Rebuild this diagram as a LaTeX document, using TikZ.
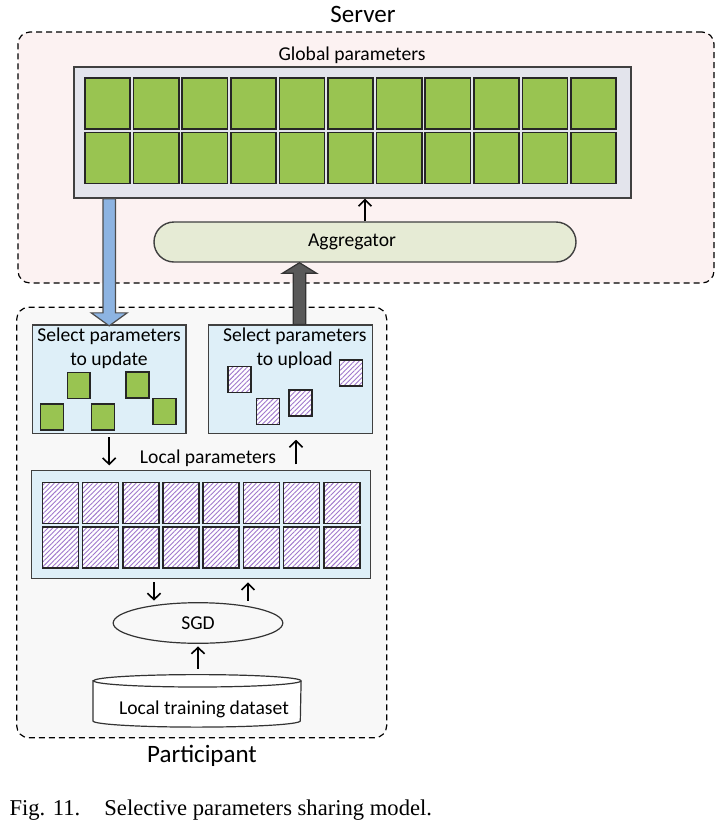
\documentclass[tikz,border=0pt]{standalone}
\usepackage{fontspec}
\setmainfont{Carlito}
\newfontfamily\capfont{Liberation Serif}
\usepackage{tikz}
\usetikzlibrary{arrows.meta,shapes,positioning,calc,patterns.meta}

\definecolor{srvbg}{RGB}{252,242,242}
\definecolor{globbg}{RGB}{227,228,236}
\definecolor{pgreen}{RGB}{153,196,81}
\definecolor{aggbg}{RGB}{230,235,213}
\definecolor{partbg}{RGB}{248,248,248}
\definecolor{selbg}{RGB}{222,239,248}
\definecolor{upblue}{RGB}{141,180,226}
\definecolor{updark}{RGB}{89,89,89}
\definecolor{hatch}{RGB}{160,120,205}

\begin{document}
\begin{tikzpicture}[x=0.5pt,y=-0.5pt,font=\fontsize{9.8}{12.15}\selectfont]
        \tikzstyle{region}=[rectangle, rounded corners=6pt, dash pattern=on 3pt off 2pt, draw=black, line width=0.6pt, inner sep=0pt]
        \tikzstyle{panel}=[rectangle, draw=black!75, line width=0.7pt, inner sep=0pt]
        \tikzstyle{gcell}=[rectangle, draw=black!85, line width=0.8pt, fill=pgreen, inner sep=0pt, minimum width=22.65pt, minimum height=25.5pt]
        \tikzstyle{hcell}=[rectangle, draw=black!85, line width=0.8pt, preaction={fill=white}, pattern={Lines[angle=45,distance=1.7pt,line width=0.45pt]}, pattern color=hatch, inner sep=0pt, minimum width=18pt, minimum height=20.5pt]
        \tikzstyle{flow}=[-{Straight Barb[length=3.2pt,width=6.5pt]}, line width=0.8pt]
        \tikzstyle{bigarrow}=[line width=0.6pt, join=miter]
        \tikzstyle{title}=[font=\fontsize{12.5}{15}\selectfont]
        \useasboundingbox (0,0) rectangle (721,826);
        % server
        \node [region, fill=srvbg, minimum width=348pt, minimum height=125.5pt] (server) at (366,157.5) {};
        \node [title] (srvlbl) at (363,14) {Server};
        \node (globlbl) at (352,55) {Global parameters};
        \node [panel, fill=globbg, minimum width=278.5pt, minimum height=65.5pt] (glob) at (352.5,132.5) {};
        \foreach \x in {0, ..., 10}
          \foreach \y in {0, 1}
          {
            \pgfmathsetmacro{\xs}{107.6 + 48.6 * \x}
            \pgfmathsetmacro{\ys}{103.7 + 54.1 * \y}
            \node [gcell] (g\x\y) at (\xs,\ys) {};
          }
        \node [panel, fill=aggbg, rounded corners=10pt, minimum width=211pt, minimum height=20pt] (agg) at (365,242) {};
        \node (agglbl) at (352,242) {Aggregator};
        \draw [flow] (agg.north) -- (agg.north |- glob.south);
        % participant
        \node [region, fill=partbg, minimum width=185pt, minimum height=215.2pt] (part) at (201.7,522.5) {};
        \node [title] (partlbl) at (202,755.7) {Participant};
        \node [panel, fill=selbg, minimum width=76.85pt, minimum height=54.15pt] (upd) at (109.2,379.2) {};
        \node [panel, fill=selbg, minimum width=81.8pt, minimum height=54.15pt] (upl) at (290.5,379.2) {};
        \node [align=center] (updtxt) at (109,348.3) {Select parameters\\to update};
        \node [align=center] (upltxt) at (294.7,348.3) {Select parameters\\to upload};
        \foreach \cx/\cy [count=\i] in {78.8/385.3, 137.4/385.2, 52/417, 103/417, 164.5/411.5}
          \node [gcell, minimum width=11.35pt, minimum height=13pt] (ug\i) at (\cx,\cy) {};
        \foreach \cx/\cy [count=\i] in {239.2/379.3, 350.8/372.8, 267.8/411.5, 300.7/402.8}
          \node [hcell, minimum width=11.5pt, minimum height=13pt] (uh\i) at (\cx,\cy) {};
        \node (loclbl) at (208,458) {Local parameters};
        \node [panel, fill=selbg, minimum width=169.5pt, minimum height=53.8pt] (loc) at (201.2,524.5) {};
        \foreach \x in {0, ..., 7}
          \foreach \y in {0, 1}
          {
            \pgfmathsetmacro{\xs}{60.3 + 40.2 * \x}
            \pgfmathsetmacro{\ys}{503 + 44.2 * \y}
            \node [hcell] (l\x\y) at (\xs,\ys) {};
          }
        \node [ellipse, draw=black!80, line width=0.6pt, inner sep=0pt, minimum width=84.8pt, minimum height=20.3pt] (sgd) at (198,623) {SGD};
        \node [rectangle, inner sep=0pt, minimum width=103.7pt, minimum height=19.65pt] (cyl) at (197,700.85) {};
        \draw [black!80, line width=0.6pt, fill=white] (cyl.north west) -- (cyl.south west)
          arc [start angle=180, end angle=0, x radius=103.7, y radius=6.2] -- (cyl.north east)
          arc [start angle=0, end angle=-180, x radius=103.7, y radius=6.2] -- cycle;
        \draw [black!80, line width=0.6pt] (cyl.north east) arc [start angle=0, end angle=180, x radius=103.7, y radius=6.2];
        \node (cyltxt) at (204,709.3) {Local training dataset};
        % small arrows
        \coordinate (ua) at ($(upl.south)+(5.5,0)$);
        \coordinate (sd) at (154,600.7);
        \coordinate (su) at (248,600.7);
        \draw [flow, shorten <=1.7pt, shorten >=2.3pt] (upd.south) -- (upd.south |- loc.north);
        \draw [flow, shorten <=2.85pt, shorten >=2.85pt] (ua |- loc.north) -- (ua);
        \draw [flow, shorten <=1.7pt] (sd |- loc.south) -- (sd);
        \draw [flow, shorten >=1.7pt] (su) -- (su |- loc.south);
        \draw [flow, shorten <=5.95pt, shorten >=1.2pt] (sgd.south |- cyl.north) -- (sgd.south);
        % big arrows between server and participant
        \coordinate (b0) at (glob.south -| upd.north);
        \coordinate (b1) at ($(upd.north)+(0,1.5)$);
        \draw [bigarrow, draw=black!70, fill=upblue] ($(b0)+(-6.2,0)$) -- ($(b1)+(-6.2,-13)$) -- ($(b1)+(-18,-13)$) -- (b1)
          -- ($(b1)+(18,-13)$) -- ($(b1)+(6.2,-13)$) -- ($(b0)+(6.2,0)$) -- cycle;
        \coordinate (g0) at ($(upl.north)+(9,0)$);
        \coordinate (g1) at (g0 |- agg.south);
        \draw [bigarrow, draw=black!80, fill=updark] ($(g0)+(-6.3,0)$) -- ($(g1)+(-6.3,10.5)$) -- ($(g1)+(-17,10.5)$) -- (g1)
          -- ($(g1)+(17,10.5)$) -- ($(g1)+(6.3,10.5)$) -- ($(g0)+(6.3,0)$) -- cycle;
        % caption
        \node [anchor=west, inner sep=0pt, font=\capfont\fontsize{11.3}{13}\selectfont] (figno) at (9.2,810) {Fig. 11.};
        \node [anchor=west, inner sep=0pt, font=\capfont\fontsize{11.3}{13}\selectfont] (figcap) at (104,810) {Selective parameters sharing model.};
\end{tikzpicture}
\end{document}
